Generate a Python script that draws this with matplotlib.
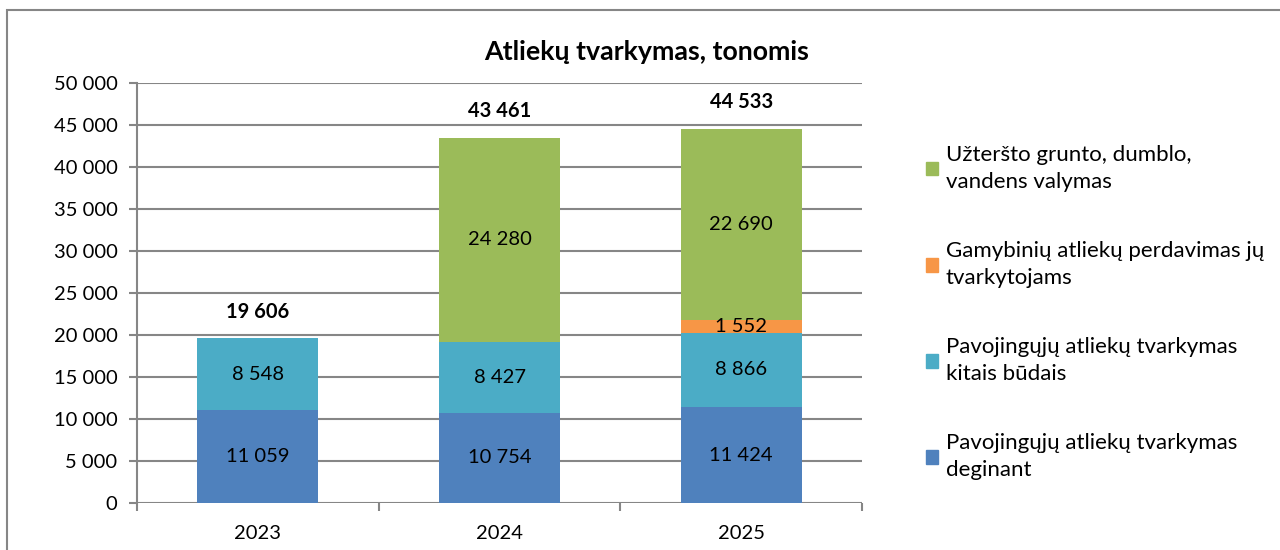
import matplotlib.pyplot as plt
import matplotlib.patches as mpatches
import numpy as np

years = ['2023', '2024', '2025']
deginant = [11059, 10754, 11424]
kitais = [8548, 8427, 8866]
gamybiniu = [0, 0, 1552]
uzersto = [0, 24280, 22690]
totals = [19606, 43461, 44533]

series = [
    ('Pavojingųjų atliekų tvarkymas\ndeginant', deginant, '#4F81BD'),
    ('Pavojingųjų atliekų tvarkymas\nkitais būdais', kitais, '#4BACC6'),
    ('Gamybinių atliekų perdavimas jų\ntvarkytojams', gamybiniu, '#F79646'),
    ('Užteršto grunto, dumblo,\nvandens valymas', uzersto, '#9BBB59'),
]

plt.rcParams['font.family'] = ['Lato', 'DejaVu Sans']

def fmt(v):
    return f'{v:,}'.replace(',', ' ')

fig = plt.figure(figsize=(12.8, 5.5), dpi=100)
ax = fig.add_axes([137 / 1280, 1 - 503 / 550, (862 - 137) / 1280, (503 - 83) / 550])

x = np.arange(len(years))
bottom = np.zeros(len(years))
for name, vals, col in series:
    vals = np.array(vals)
    ax.bar(x, vals, 0.5, bottom=bottom, color=col, zorder=2)
    for xi, b, v in zip(x, bottom, vals):
        if v > 0:
            ax.text(xi, b + v / 2, fmt(v), ha='center', va='center', fontsize=14.5, color='black', zorder=3)
    bottom += vals

for xi, t in zip(x, totals):
    ax.annotate(fmt(t), (xi, t), xytext=(0, 12), textcoords='offset points',
                ha='center', va='bottom', fontsize=14.5, fontweight='bold')

ax.set_xlim(-0.5, 2.5)
ax.set_ylim(0, 50000)
ax.set_yticks(range(0, 50001, 5000))
ax.set_yticklabels([fmt(v) for v in range(0, 50001, 5000)], fontsize=14.5)
ax.set_xticks(x)
ax.set_xticklabels(years, fontsize=14.5)
ax.set_xticks([-0.5, 0.5, 1.5, 2.5], minor=True)
ax.tick_params(axis='x', which='major', length=0, pad=16)
ax.tick_params(axis='x', which='minor', length=6, color='#868686', width=1.5)
ax.tick_params(axis='y', length=6, color='#868686', width=1.5, pad=8)
ax.yaxis.grid(True, color='#868686', linewidth=1.5, zorder=0)
ax.set_axisbelow(True)
for s in ['top', 'right', 'bottom']:
    ax.spines[s].set_visible(False)
ax.spines['left'].set_color('#868686')
ax.spines['left'].set_linewidth(1.5)

fig.text(647 / 1280, 1 - 52 / 550, 'Atliekų tvarkymas, tonomis', fontsize=19.3,
         fontweight='bold', ha='center', va='center')

handles = [mpatches.Patch(color=col, label=name) for name, vals, col in series[::-1]]
leg = fig.legend(handles=handles, loc='upper left', bbox_to_anchor=(926 / 1280, 1 - 145 / 550),
                 frameon=False, fontsize=16, handlelength=0.55, handleheight=0.55,
                 handletextpad=0.35, labelspacing=2.2, borderpad=0, borderaxespad=0)
for t in leg.get_texts():
    t.set_linespacing(1.45)

fig.patches.append(mpatches.Rectangle((7 / 1280, -0.1), 1.2, 1 - 10 / 550 + 0.1, transform=fig.transFigure,
                                      fill=False, edgecolor='#868686', linewidth=1.5))

fig.savefig('out.png', dpi=100)
